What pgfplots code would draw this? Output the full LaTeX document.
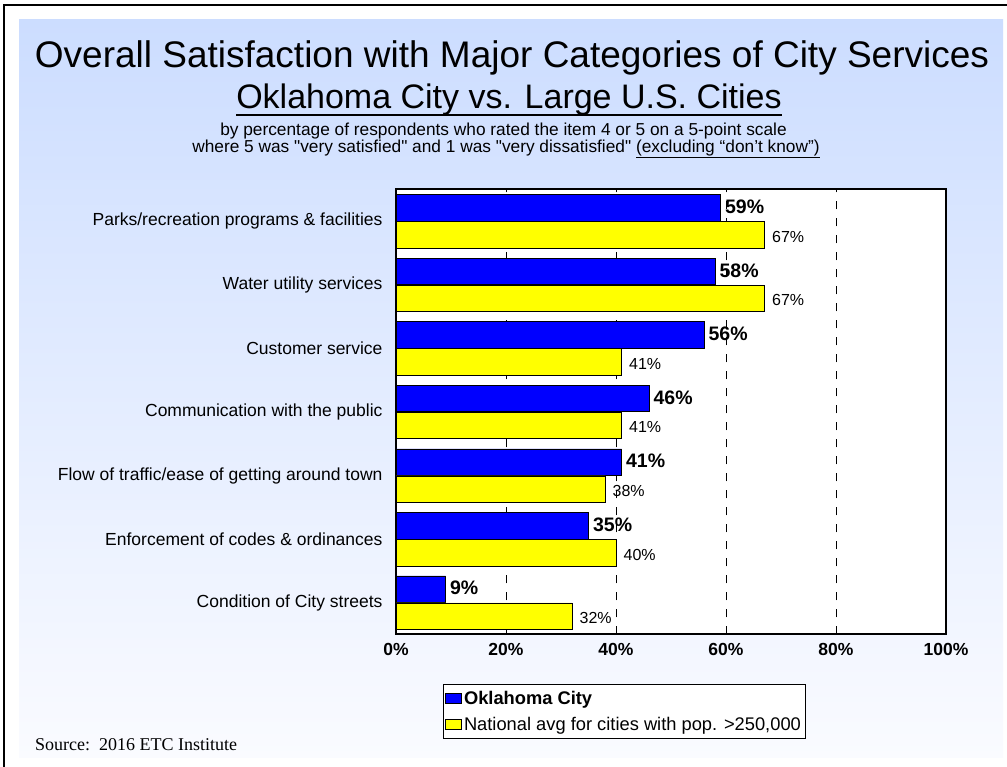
\documentclass[border=0pt]{standalone}
\usepackage{pgfplots}
\pgfplotsset{compat=1.18}
\usepackage{pgfplotstable}
\usepackage{fontspec}
\setmainfont{Liberation Sans}
\newfontfamily\seriffont{Liberation Serif}
\definecolor{bgtop}{RGB}{204,221,255}
\definecolor{bgbot}{RGB}{250,251,255}
\definecolor{okc}{RGB}{0,0,255}
\definecolor{nat}{RGB}{255,255,0}

\pgfplotstableread{
y okc nat
6 59 67
5 58 67
4 56 41
3 46 41
2 41 38
1 35 40
0 9 32
}\datatable

\begin{document}
\begin{tikzpicture}[x=1pt,y=1pt]
\useasboundingbox (0,0) rectangle (1007,767);
\fill[white] (0,0) rectangle (1007,767);
\shade[top color=bgtop,bottom color=bgbot] (19,9) rectangle (1003,747);
\draw[line width=1.2pt] (4,0) -- (4,762) -- (1007,762);

\node[font=\fontsize{37}{42}\selectfont, inner sep=0] at (512,709) {Overall Satisfaction with Major Categories of City Services};
\node[font=\fontsize{34}{38}\selectfont, inner sep=0, anchor=base] (sub) at (509,658) {Oklahoma City vs. Large U.S. Cities};
\draw[line width=2pt] ([yshift=-6pt]sub.base west) -- ([yshift=-6pt]sub.base east);
\node[font=\fontsize{17.3}{19}\selectfont, inner sep=0] at (503.5,636) {by percentage of respondents who rated the item 4 or 5 on a 5-point scale};
\node[font=\fontsize{17.3}{19}\selectfont, inner sep=0] at (506,618) {where 5 was \textquotedbl very satisfied\textquotedbl\ and 1 was \textquotedbl very dissatisfied\textquotedbl\ \underline{(excluding “don’t know”)}};
\node[anchor=west, font=\seriffont\fontsize{18}{20}\selectfont, inner sep=0] at (35,22) {Source:\ \ 2016 ETC Institute};

\begin{axis}[
  at={(396pt,132.5pt)}, anchor=south west,
  scale only axis, width=550pt, height=445pt,
  xbar, bar width=26.5pt,
  xmin=0, xmax=100, ymin=-0.5, ymax=6.5,
  axis background/.style={fill=white},
  axis line style={line width=2pt},
  /pgf/number format/assume math mode=true,
  xtick={0,20,40,60,80,100},
  xticklabels={0\%,20\%,40\%,60\%,80\%,100\%},
  xticklabel style={font=\fontsize{17.5}{20}\selectfont\bfseries, yshift=-5pt},
  ytick={0,...,6},
  yticklabels={Condition of City streets, Enforcement of codes \& ordinances, Flow of traffic/ease of getting around town, Communication with the public, Customer service, Water utility services, Parks/recreation programs \& facilities},
  yticklabel style={font=\fontsize{17.5}{20}\selectfont, xshift=-10pt},
  major tick length=0pt,
  xmajorgrids,
  grid style={black, line width=0.8pt, dash pattern=on 8pt off 9pt},
  legend style={at={(rel axis cs:0.0855,-0.111)}, anchor=north west, draw=black, line width=0.8pt, fill=white, font=\fontsize{18.3}{20}\selectfont, inner xsep=2pt, inner ysep=5pt, row sep=7pt},
  legend cell align=left,
  legend image code/.code={\draw[#1, line width=0.6pt] (0pt,-5pt) rectangle (16pt,5pt);},
]
\addplot[fill=okc, draw=black, line width=0.6pt, bar shift=13.5pt,
  point meta=x,
  nodes near coords={\pgfmathprintnumber{\pgfplotspointmeta}\%},
  nodes near coords style={font=\fontsize{19.5}{22}\selectfont\bfseries, anchor=west, xshift=1pt, yshift=1pt, black}]
  table[x=okc, y=y]{\datatable};
\addlegendentry{\textbf{Oklahoma City}}
\addplot[fill=nat, draw=black, line width=0.6pt, bar shift=-13.5pt,
  point meta=x,
  nodes near coords={\pgfmathprintnumber{\pgfplotspointmeta}\%},
  nodes near coords style={font=\fontsize{16}{18}\selectfont, anchor=west, xshift=4pt, yshift=-2pt, black}]
  table[x=nat, y=y]{\datatable};
\addlegendentry{National avg for cities with pop. >250,000}
\end{axis}
\end{tikzpicture}
\end{document}
